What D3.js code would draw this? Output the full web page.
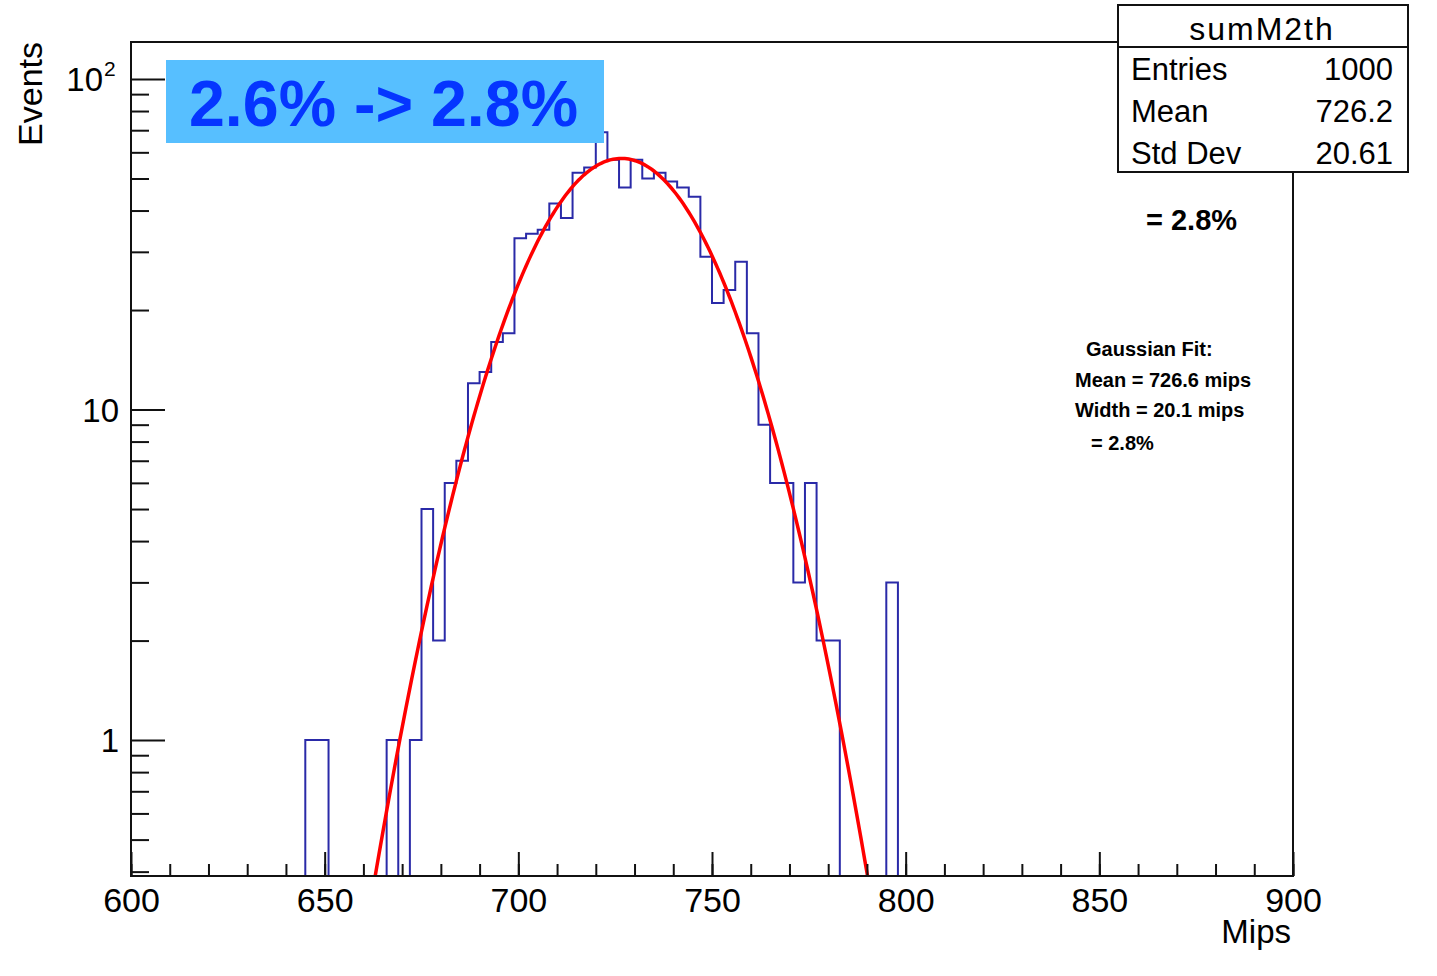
<!DOCTYPE html>
<html>
<head>
<meta charset="utf-8">
<script src="https://cdn.jsdelivr.net/npm/d3@7"></script>
<style>
  html, body { margin: 0; padding: 0; background: #fff; }
  svg { display: block; font-family: "Liberation Sans", Arial, Helvetica, sans-serif; }
</style>
</head>
<body>
<svg id="chart" width="1437" height="976"></svg>
<script>
// ---------------- DATA ----------------
const histName = "sumM2th";
const xMin = 600, xMax = 900, binWidth = 3;
// counts per 3-mip bin, starting at 600
const binCounts = [
  0,0,0,0,0,0,0,0,0,0,      // 600-630
  0,0,0,0,0,1,1,0,0,0,      // 630-660
  0,0,1,0,1,5,2,6,7,12,     // 660-690
  13,16,17,33,34,35,42,38,52,54, // 690-720
  69,57,47,57,50,52,49,47,44,29, // 720-750
  21,23,28,17,9,6,6,3,6,2,  // 750-780
  2,0,0,0,0,3,0,0,0,0,      // 780-810
  0,0,0,0,0,0,0,0,0,0,      // 810-840
  0,0,0,0,0,0,0,0,0,0,      // 840-870
  0,0,0,0,0,0,0,0,0,0       // 870-900
];
const yMin = 0.388, yMax = 129.4;
const xMajorTicks = [600, 650, 700, 750, 800, 850, 900];
const xMinorTicks = d3.range(600, 901, 10);
const yMajorTicks = [1, 10, 100];
const yMinorTicks = [0.4,0.5,0.6,0.7,0.8,0.9,2,3,4,5,6,7,8,9,20,30,40,50,60,70,80,90];
const yTickLabels = ["1", "10", "10"];
const statsLabels = ["Entries", "Mean", "Std Dev"];
const statsValues = ["1000", "726.2", "20.61"];
// Gaussian fit parameters (from the fit shown)
const fitConstant = 57.5, fitMean = 726.6, fitSigma = 20.1;
const fitText = ["Gaussian Fit:", "Mean = 726.6 mips", "Width = 20.1 mips", "= 2.8%"];
const bannerText = "2.6% -> 2.8%";
const resolutionText = "= 2.8%";

// ---------------- LAYOUT ----------------
const L = 131, R = 1293, T = 42, B = 876;
const svg = d3.select("#chart");
const x = d3.scaleLinear().domain([xMin, xMax]).range([L, R]);
const y = d3.scaleLog().domain([yMin, yMax]).range([B, T]);

// clip
svg.append("defs").append("clipPath").attr("id", "plotclip")
  .append("rect").attr("x", L).attr("y", T).attr("width", R - L).attr("height", B - T);

// histogram outline
const bins = binCounts.map((c, i) => ({ lo: xMin + i * binWidth, hi: xMin + (i + 1) * binWidth, c }));
let d = `M${x(xMin)},${B}`;
bins.forEach(b => {
  const yy = b.c > 0 ? y(b.c) : B;
  d += `L${x(b.lo)},${yy}L${x(b.hi)},${yy}`;
});
d += `L${x(xMax)},${B}`;
svg.append("path").attr("d", d).attr("fill", "none")
  .attr("stroke", "#2a2aa8").attr("stroke-width", 2).attr("clip-path", "url(#plotclip)");

// fit curve
const gauss = v => fitConstant * Math.exp(-0.5 * Math.pow((v - fitMean) / fitSigma, 2));
const fitXs = d3.range(xMin, xMax + 0.01, 0.5).filter(v => gauss(v) > yMin * 0.8);
const line = d3.line().x(v => x(v)).y(v => y(gauss(v)));
svg.append("path").datum(fitXs)
  .attr("d", line).attr("fill", "none").attr("stroke", "#ff0000").attr("stroke-width", 3.5)
  .attr("clip-path", "url(#plotclip)");

// frame
svg.append("rect").attr("x", L).attr("y", T).attr("width", R - L).attr("height", B - T)
  .attr("fill", "none").attr("stroke", "#111").attr("stroke-width", 2);

// x axis ticks
const xAxisMinor = d3.axisBottom(x).tickValues(xMinorTicks).tickSize(-12).tickFormat("");
svg.append("g").attr("transform", `translate(0,${B})`).call(xAxisMinor)
  .call(g => g.select(".domain").remove())
  .call(g => g.selectAll("line").attr("stroke", "#111").attr("stroke-width", 2));
const xAxisMajor = d3.axisBottom(x).tickValues(xMajorTicks).tickSize(-24).tickPadding(12).tickFormat(d3.format("d"));
svg.append("g").attr("transform", `translate(0,${B})`).call(xAxisMajor)
  .call(g => g.select(".domain").remove())
  .call(g => g.selectAll("line").attr("stroke", "#111").attr("stroke-width", 2))
  .call(g => g.selectAll("text").attr("font-size", 34).attr("fill", "#000")
    .attr("font-family", "'Liberation Sans', Arial, sans-serif"));

// y axis ticks
const yAxisMinor = d3.axisLeft(y).tickValues(yMinorTicks).tickSize(-18).tickFormat("");
svg.append("g").attr("transform", `translate(${L},0)`).call(yAxisMinor)
  .call(g => g.select(".domain").remove())
  .call(g => g.selectAll("line").attr("stroke", "#111").attr("stroke-width", 2));
const yAxisMajor = d3.axisLeft(y).tickValues(yMajorTicks).tickSize(-34).tickFormat("");
svg.append("g").attr("transform", `translate(${L},0)`).call(yAxisMajor)
  .call(g => g.select(".domain").remove())
  .call(g => g.selectAll("line").attr("stroke", "#111").attr("stroke-width", 2));

// y tick labels
yMajorTicks.forEach((v, i) => {
  svg.append("text").attr("x", v === 100 ? 103 : 119).attr("y", y(v) + 12)
    .attr("text-anchor", "end").attr("font-size", 33).attr("fill", "#000").text(yTickLabels[i]);
  if (v === 100) {
    svg.append("text").attr("x", 104).attr("y", y(v) - 3)
      .attr("font-size", 21).attr("fill", "#000").text("2");
  }
});

// axis titles
svg.append("text").attr("transform", `translate(42,${T}) rotate(-90)`)
  .attr("text-anchor", "end").attr("font-size", 34).attr("fill", "#000").text("Events");
svg.append("text").attr("x", 1291).attr("y", 943)
  .attr("text-anchor", "end").attr("font-size", 33).attr("fill", "#000").text("Mips");

// banner
svg.append("rect").attr("x", 166).attr("y", 60).attr("width", 438).attr("height", 83).attr("fill", "#57bfff");
svg.append("text").attr("x", 189).attr("y", 126).attr("font-size", 64.5).attr("font-weight", "bold")
  .attr("fill", "#0535ff").text(bannerText);

// stats box
svg.append("rect").attr("x", 1118).attr("y", 5).attr("width", 290).attr("height", 167)
  .attr("fill", "#fff").attr("stroke", "#111").attr("stroke-width", 2);
svg.append("line").attr("x1", 1118).attr("x2", 1408).attr("y1", 47).attr("y2", 47)
  .attr("stroke", "#111").attr("stroke-width", 2);
svg.append("text").attr("x", 1262).attr("y", 40).attr("text-anchor", "middle")
  .attr("font-size", 32).attr("letter-spacing", 2).attr("fill", "#000").text(histName);
const rowY = [80, 122, 164];
statsLabels.forEach((lab, i) => {
  svg.append("text").attr("x", 1131).attr("y", rowY[i]).attr("font-size", 31).attr("fill", "#000").text(lab);
  svg.append("text").attr("x", 1393).attr("y", rowY[i]).attr("text-anchor", "end")
    .attr("font-size", 31).attr("fill", "#000").text(statsValues[i]);
});

// resolution text
svg.append("text").attr("x", 1146).attr("y", 230).attr("font-size", 29).attr("font-weight", "bold")
  .attr("fill", "#000").text(resolutionText);

// fit info
const fitX = [1086, 1075, 1075, 1091];
const fitY = [356, 387, 417, 450];
fitText.forEach((t, i) => {
  svg.append("text").attr("x", fitX[i]).attr("y", fitY[i]).attr("font-size", 20)
    .attr("font-weight", "bold").attr("fill", "#000").text(t);
});
</script>
</body>
</html>
